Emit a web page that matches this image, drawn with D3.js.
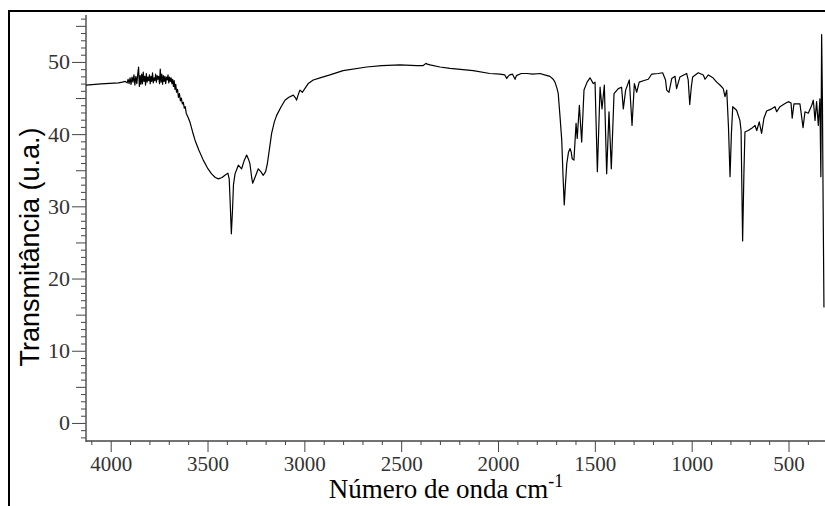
<!DOCTYPE html>
<html lang='pt'>
	<head>
		<meta charset='utf-8'>
		<title>Espectro IV</title>
		<script type='text/javascript' src='https://cdn.jsdelivr.net/npm/d3@7/dist/d3.min.js'></script>
		<style>
			body { margin: 0; background: #fff; }
			svg { display: block; }
			.tick text { font-family: 'Liberation Serif', 'Times New Roman', serif; }
		</style>
	</head>
	<body>
		<script type='text/javascript'>
		// wavenumber (cm-1) and transmittance
		var wavenumber = [4127, 4050, 3960, 3940, 3925, 3915, 3910, 3905, 3900, 3895, 3890, 3885, 3880, 3875, 3870, 3865, 3860, 3856, 3852, 3848, 3844, 3840, 3836, 3832, 3828, 3824, 3820, 3816, 3812, 3808, 3804, 3800, 3796, 3792, 3788, 3784, 3780, 3776, 3772, 3768, 3764, 3760, 3756, 3752, 3748, 3744, 3740, 3736, 3732, 3728, 3724, 3720, 3716, 3712, 3708, 3704, 3700, 3696, 3692, 3688, 3684, 3680, 3676, 3672, 3668, 3664, 3660, 3655, 3650, 3645, 3640, 3635, 3630, 3625, 3620, 3615, 3610, 3600, 3590, 3577, 3565, 3545, 3522, 3500, 3479, 3460, 3444, 3425, 3410, 3395, 3388, 3383, 3377, 3371, 3366, 3358, 3341, 3324, 3310, 3298, 3288, 3281, 3272, 3267, 3255, 3238, 3225, 3212, 3200, 3191, 3180, 3169, 3155, 3143, 3120, 3100, 3080, 3057, 3045, 3040, 3030, 3023, 3010, 2995, 2980, 2954, 2919, 2868, 2800, 2678, 2600, 2506, 2420, 2386, 2372, 2365, 2351, 2300, 2248, 2128, 2042, 1990, 1965, 1955, 1948, 1940, 1925, 1912, 1905, 1880, 1850, 1820, 1783, 1760, 1732, 1715, 1706, 1695, 1689, 1680, 1671, 1664, 1658, 1652, 1645, 1636, 1628, 1622, 1617, 1608, 1597, 1591, 1580, 1568, 1556, 1540, 1525, 1508, 1499, 1487, 1473, 1463, 1451, 1439, 1427, 1415, 1401, 1379, 1362, 1353, 1341, 1322, 1308, 1296, 1284, 1271, 1250, 1224, 1207, 1173, 1150, 1135, 1129, 1117, 1103, 1086, 1078, 1061, 1026, 1018, 1010, 1002, 995, 966, 940, 931, 914, 890, 871, 850, 837, 828, 819, 810, 802, 795, 788, 768, 751, 745, 737, 730, 725, 708, 690, 673, 664, 651, 639, 627, 613, 587, 570, 561, 544, 520, 501, 487, 481, 472, 441, 425, 415, 398, 380, 372, 363, 355, 346, 338, 333, 329, 325, 321, 317];
		var transmitancia = [46.8, 46.95, 47.1, 47.2, 47.3, 47.1, 47.6, 47.0, 47.8, 46.9, 47.9, 47.2, 48.2, 46.8, 48.0, 47.0, 48.4, 49.3, 46.6, 48.1, 46.9, 48.3, 47.0, 48.6, 47.3, 48.0, 46.8, 48.4, 47.2, 47.9, 47.4, 48.2, 47.0, 48.0, 47.3, 48.5, 47.1, 47.8, 47.4, 48.3, 47.2, 48.1, 47.6, 48.0, 47.0, 49.0, 47.2, 48.3, 46.9, 48.1, 47.3, 48.0, 47.0, 47.9, 47.5, 48.2, 47.1, 47.9, 47.3, 47.8, 47.0, 47.6, 46.6, 47.4, 46.2, 46.9, 45.8, 46.2, 45.1, 45.6, 44.6, 45.0, 44.2, 44.4, 43.6, 43.8, 42.9, 42.3, 41.6, 40.3, 39.2, 37.8, 36.4, 35.3, 34.5, 34.0, 33.8, 34.0, 34.3, 34.6, 33.8, 30.5, 26.2, 29.5, 33.0, 34.5, 35.7, 35.2, 36.4, 37.1, 36.5, 35.9, 34.0, 33.2, 34.0, 35.2, 34.8, 34.3, 34.8, 35.9, 38.0, 40.1, 41.7, 42.6, 43.8, 44.7, 45.1, 45.4, 45.0, 44.7, 45.6, 46.1, 45.8, 46.4, 47.0, 47.5, 47.8, 48.2, 48.8, 49.3, 49.5, 49.6, 49.5, 49.5, 49.8, 49.7, 49.6, 49.3, 49.1, 48.8, 48.4, 48.3, 48.2, 47.7, 48.0, 48.2, 48.3, 47.6, 48.1, 48.4, 48.4, 48.3, 48.4, 48.2, 48.0, 47.6, 47.2, 46.3, 45.6, 42.5, 39.2, 34.0, 30.2, 33.0, 35.9, 37.5, 38.0, 37.5, 36.6, 36.4, 41.5, 39.4, 44.0, 38.9, 46.1, 47.2, 47.8, 47.0, 47.2, 34.8, 46.5, 43.5, 46.8, 34.5, 43.1, 35.2, 45.6, 46.3, 46.5, 43.5, 46.1, 47.5, 41.2, 47.0, 45.8, 47.2, 47.4, 47.6, 48.3, 48.4, 48.5, 47.5, 46.1, 45.8, 47.7, 48.0, 46.3, 47.9, 48.4, 47.5, 44.1, 46.5, 47.9, 48.5, 48.2, 47.6, 48.2, 47.8, 47.2, 46.7, 46.3, 45.2, 46.1, 41.0, 34.1, 40.0, 43.8, 43.3, 41.9, 40.5, 25.2, 35.0, 40.3, 40.5, 40.8, 41.2, 40.5, 41.7, 40.1, 42.2, 43.2, 43.5, 43.8, 43.1, 43.8, 44.2, 44.5, 44.3, 42.2, 44.2, 44.2, 40.9, 43.1, 42.9, 44.0, 44.7, 41.9, 44.5, 41.2, 44.9, 34.1, 53.8, 45.0, 29.4, 16.0];

		var xMajorTicks = [4000, 3500, 3000, 2500, 2000, 1500, 1000, 500];
		var yMajorTicks = [0, 10, 20, 30, 40, 50];
		var xTitle = 'Número de onda cm';
		var yTitle = 'Transmitância (u.a.)';

		var width = 825, height = 506;
		var plotLeft = 86, plotRight = 825, plotTop = 15, plotBottom = 441;
		var serifFont = "'Liberation Serif', 'Times New Roman', serif";

		var svg = d3.select('body').append('svg').attr('width', width).attr('height', height);

		// outer frame (only top and left edges are visible)
		svg.append('path').attr('d', 'M8,11H825M9,11V506').attr('stroke', '#000').attr('stroke-width', 2).attr('fill', 'none');

		var x = d3.scaleLinear().domain([4127.5, 311.6]).range([plotLeft, plotRight]);
		var y = d3.scaleLinear().domain([-2.5, 56.5]).range([plotBottom, plotTop]);

		// y axis: minor, mid and major ticks as separate axes
		var yMinor = d3.range(-2, 57).filter(v => v % 5 !== 0);
		var yMid = d3.range(5, 56, 10);
		svg.append('g').attr('transform', 'translate(' + plotLeft + ',0)')
			.call(d3.axisLeft(y).tickValues(yMinor).tickSize(5).tickFormat(''));
		svg.append('g').attr('transform', 'translate(' + plotLeft + ',0)')
			.call(d3.axisLeft(y).tickValues(yMid).tickSize(10).tickFormat(''));
		var yAxis = svg.append('g').attr('transform', 'translate(' + plotLeft + ',0)')
			.call(d3.axisLeft(y).tickValues(yMajorTicks).tickSize(14).tickPadding(2).tickFormat(d3.format('d')));

		var xMinor = d3.range(4100, 300, -100).filter(v => v % 500 !== 0);
		svg.append('g').attr('transform', 'translate(0,' + plotBottom + ')')
			.call(d3.axisBottom(x).tickValues(xMinor).tickSize(4).tickFormat(''));
		var xAxis = svg.append('g').attr('transform', 'translate(0,' + plotBottom + ')')
			.call(d3.axisBottom(x).tickValues(xMajorTicks).tickSize(11).tickPadding(4).tickFormat(d3.format('d')));

		svg.selectAll('.domain').remove();
		svg.selectAll('.tick line').attr('stroke', '#444');
		svg.append('line').attr('x1', plotLeft).attr('x2', plotLeft).attr('y1', plotTop).attr('y2', plotBottom + 1).attr('stroke', '#555').attr('stroke-width', 1.5);
		svg.append('line').attr('x1', plotLeft).attr('x2', plotRight).attr('y1', plotBottom).attr('y2', plotBottom).attr('stroke', '#444').attr('stroke-width', 1.5);

		yAxis.attr('font-family', serifFont).attr('font-size', 22);
		xAxis.attr('font-family', serifFont).attr('font-size', 21);
		yAxis.selectAll('text').attr('font-family', serifFont).attr('fill', '#333');
		xAxis.selectAll('text').attr('font-family', serifFont).attr('fill', '#333');

		// spectrum
		var points = wavenumber.map((w, i) => [w, transmitancia[i]]);
		svg.append('path').datum(points)
			.attr('fill', 'none').attr('stroke', '#000').attr('stroke-width', 1.2).attr('stroke-linejoin', 'round')
			.attr('d', d3.line().x(d => x(d[0])).y(d => y(d[1])));

		// titles
		var xt = svg.append('text').attr('x', 446).attr('y', 498).attr('text-anchor', 'middle')
			.attr('font-family', serifFont).attr('font-size', 27).attr('fill', '#000');
		xt.append('tspan').text(xTitle);
		xt.append('tspan').attr('font-size', 18).attr('dy', -11).text('-1');

		svg.append('text').attr('transform', 'translate(39,247) rotate(-90)').attr('text-anchor', 'middle')
			.attr('font-family', "'Liberation Sans', Arial, sans-serif").attr('font-size', 27).attr('fill', '#000')
			.text(yTitle);
		</script>
	</body>
</html>
